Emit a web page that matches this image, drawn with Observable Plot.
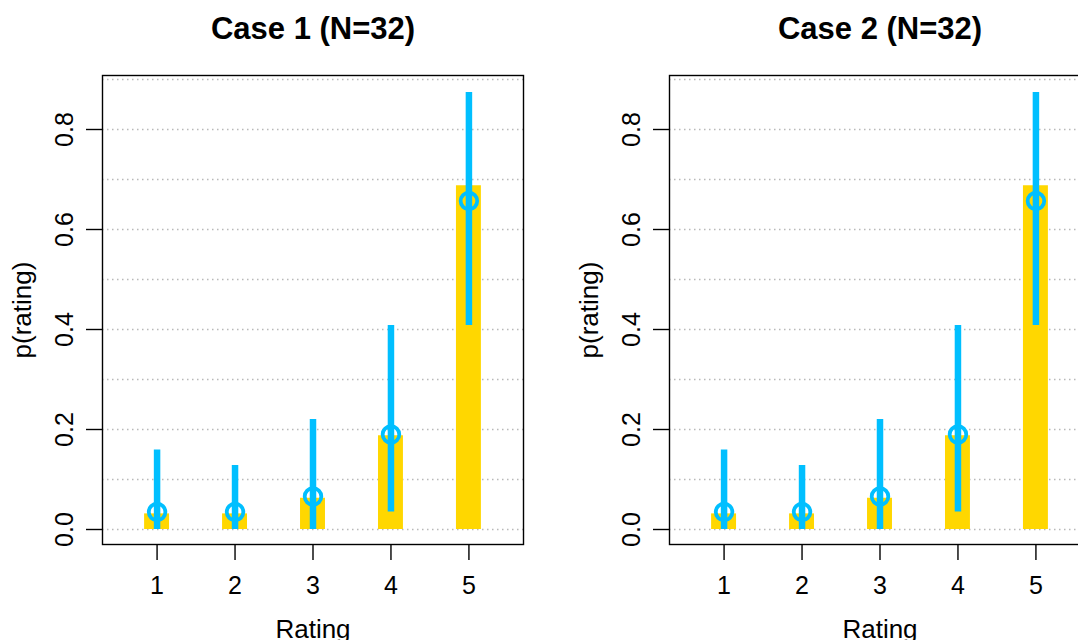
<!DOCTYPE html>
<html>
<head>
<meta charset="utf-8">
<script src="https://cdn.jsdelivr.net/npm/d3@7"></script>
<script src="https://cdn.jsdelivr.net/npm/@observablehq/plot@0.6"></script>
<style>
  html, body { margin: 0; padding: 0; background: #fff; overflow: hidden; width: 1078px; height: 640px; }
  #wrap { position: relative; width: 1078px; height: 640px; overflow: hidden; }
  .panel { position: absolute; top: 0; }
  svg { font-family: "Liberation Sans", Arial, sans-serif; }
</style>
</head>
<body>
<div id="wrap"></div>
<script>
// ---- data ----
const ratings = [1, 2, 3, 4, 5];
const panelTitles = ["Case 1 (N=32)", "Case 2 (N=32)"];
// observed proportions (bars)
const case1Prop = [0.03125, 0.03125, 0.0625, 0.1875, 0.6875];
const case2Prop = [0.03125, 0.03125, 0.0625, 0.1875, 0.6875];
// posterior means (circles)
const case1Mean = [0.035, 0.035, 0.066, 0.19, 0.657];
const case2Mean = [0.035, 0.035, 0.066, 0.19, 0.657];
// interval ends (vertical segments)
const case1Lo = [0, 0, 0, 0.035, 0.408];
const case1Hi = [0.159, 0.128, 0.22, 0.408, 0.874];
const case2Lo = [0, 0, 0, 0.035, 0.408];
const case2Hi = [0.159, 0.128, 0.22, 0.408, 0.874];
const yTicks = [0, 0.2, 0.4, 0.6, 0.8];
const gridLines = [0, 0.1, 0.2, 0.3, 0.4, 0.5, 0.6, 0.7, 0.8, 0.9];
const xLabel = "Rating";
const yLabel = "p(rating)";

const cases = [
  {title: panelTitles[0], prop: case1Prop, mean: case1Mean, lo: case1Lo, hi: case1Hi},
  {title: panelTitles[1], prop: case2Prop, mean: case2Mean, lo: case2Lo, hi: case2Hi}
];

const wrap = document.getElementById("wrap");
const lefts = [0, 567];

cases.forEach((c, i) => {
  const rows = ratings.map((r, k) => ({r, p: c.prop[k], m: c.mean[k], lo: c.lo[k], hi: c.hi[k]}));
  const chart = Plot.plot({
    width: 566,
    height: 640,
    marginLeft: 102,
    marginRight: 43,
    marginTop: 75,
    marginBottom: 96,
    style: {fontFamily: '"Liberation Sans", Arial, sans-serif', color: "#000", background: "#fff", overflow: "visible"},
    x: {domain: [0.3, 5.7]},
    y: {domain: [-0.03, 0.908]},
    marks: [
      Plot.ruleY(gridLines, {y: d => d, stroke: "#b8b8b8", strokeWidth: 1.3, strokeDasharray: "1.5,3.5"}),
      Plot.rectY(rows, {x1: d => d.r - 0.16, x2: d => d.r + 0.16, y1: 0, y2: "p", fill: "#FFD700"}),
      Plot.ruleX(rows, {x: "r", y1: "lo", y2: "hi", stroke: "#00BFFF", strokeWidth: 6.5, strokeLinecap: "butt"}),
      Plot.dot(rows, {x: "r", y: "m", r: 8.3, stroke: "#00BFFF", strokeWidth: 3.8, fill: "none"}),
      Plot.frame({stroke: "#000", strokeWidth: 1.4}),
      Plot.axisY({ticks: yTicks, tickFormat: d3.format(".1f"), tickSize: 16, tickPadding: 14, tickRotate: -90, fontSize: 25, label: null, stroke: "#000", strokeWidth: 1.4, strokeOpacity: 1}),
      Plot.axisX({ticks: ratings, tickFormat: d3.format("d"), tickSize: 16, tickPadding: 16, fontSize: 25, label: null, stroke: "#000", strokeWidth: 1.4, strokeOpacity: 1}),
      Plot.text([c.title], {frameAnchor: "top", dy: -46, lineAnchor: "middle", fontSize: 31, fontWeight: "bold", text: d => d}),
      Plot.text([xLabel], {frameAnchor: "bottom", dy: 85, lineAnchor: "middle", fontSize: 26, text: d => d}),
      Plot.text([yLabel], {frameAnchor: "left", dx: -80, rotate: -90, textAnchor: "middle", lineAnchor: "middle", fontSize: 26, text: d => d})
    ]
  });
  chart.classList.add("panel");
  chart.style.left = lefts[i] + "px";
  wrap.appendChild(chart);
});
</script>
</body>
</html>
